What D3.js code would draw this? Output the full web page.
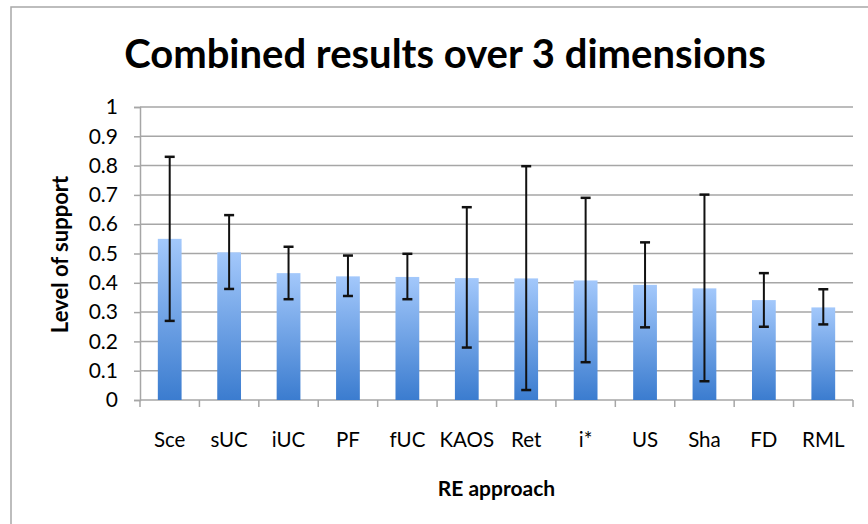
<!DOCTYPE html>
<html>
<head>
<meta charset="utf-8">
<script src="https://cdn.jsdelivr.net/npm/d3@7"></script>
<style>
  body { margin: 0; background: #fff; }
  text { font-family: Lato, "Open Sans", sans-serif; }
</style>
</head>
<body>
<div id="chart"></div>
<script>
// data
var approaches = ["Sce", "sUC", "iUC", "PF", "fUC", "KAOS", "Ret", "i*", "US", "Sha", "FD", "RML"];
var support = [0.55, 0.504, 0.433, 0.422, 0.42, 0.416, 0.415, 0.408, 0.393, 0.381, 0.341, 0.316];
var errHigh = [0.83, 0.631, 0.523, 0.493, 0.499, 0.658, 0.798, 0.69, 0.538, 0.701, 0.433, 0.378];
var errLow = [0.27, 0.379, 0.344, 0.355, 0.344, 0.179, 0.034, 0.129, 0.248, 0.064, 0.25, 0.258];
var yTicks = [0, 0.1, 0.2, 0.3, 0.4, 0.5, 0.6, 0.7, 0.8, 0.9, 1];

const width = 868, height = 524;
const margin = { top: 107, right: 15, bottom: 124, left: 140 };
const innerW = width - margin.left - margin.right;
const innerH = height - margin.top - margin.bottom;

const svg = d3.select("#chart").append("svg")
  .attr("width", width)
  .attr("height", height);

// gradient for the bars
var grad = svg.append("defs").append("linearGradient")
  .attr("id", "barGrad")
  .attr("x1", 0).attr("y1", 0).attr("x2", 0).attr("y2", 1);
grad.append("stop").attr("offset", "0%").attr("stop-color", "#a3c8fb");
grad.append("stop").attr("offset", "100%").attr("stop-color", "#3b7ccf");

// outer chart frame
svg.append("rect")
  .attr("x", 11).attr("y", 7)
  .attr("width", width + 20).attr("height", height + 20)
  .attr("fill", "none")
  .attr("stroke", "#a8a8a8")
  .attr("stroke-width", 1.5);

const g = svg.append("g")
  .attr("transform", `translate(${margin.left},${margin.top})`);

const x = d3.scaleBand()
  .domain(approaches)
  .range([0, innerW])
  .paddingInner(0.6)
  .paddingOuter(0.3);

const y = d3.scaleLinear()
  .domain([0, 1])
  .range([innerH, 0]);

// horizontal gridlines
g.selectAll(".grid")
  .data(yTicks.slice(1))
  .join("line")
  .attr("x1", 0)
  .attr("x2", innerW)
  .attr("y1", d => y(d))
  .attr("y2", d => y(d))
  .attr("stroke", "#a6a6a6")
  .attr("stroke-width", 1.5);

// y axis
g.append("g")
  .call(d3.axisLeft(y).tickValues(yTicks).tickFormat(d => d).tickSize(6).tickPadding(16))
  .call(a => a.selectAll("line, path").attr("stroke", "#a6a6a6").attr("stroke-width", 1.5))
  .call(a => a.selectAll("text").style("font-size", "21px").attr("fill", "#000"));

// x axis with ticks at category boundaries
var bounds = d3.range(approaches.length + 1).map(i => i * innerW / approaches.length);
g.append("line")
  .attr("x1", 0).attr("x2", innerW)
  .attr("y1", innerH).attr("y2", innerH)
  .attr("stroke", "#a6a6a6").attr("stroke-width", 1.5);
g.selectAll(".xtick")
  .data(bounds)
  .join("line")
  .attr("x1", d => d).attr("x2", d => d)
  .attr("y1", innerH).attr("y2", innerH + 7)
  .attr("stroke", "#a6a6a6").attr("stroke-width", 1.5);
g.selectAll(".xlabel")
  .data(approaches)
  .join("text")
  .attr("x", d => x(d) + x.bandwidth() / 2)
  .attr("y", innerH + 47)
  .attr("text-anchor", "middle")
  .style("font-size", "20.5px")
  .text(d => d);

// bars
g.selectAll(".bar")
  .data(approaches)
  .join("rect")
  .attr("x", d => x(d))
  .attr("y", (d, i) => y(support[i]))
  .attr("width", x.bandwidth())
  .attr("height", (d, i) => innerH - y(support[i]))
  .attr("fill", "url(#barGrad)");

// error bars
var eb = g.selectAll(".err")
  .data(approaches)
  .join("g")
  .attr("transform", d => `translate(${x(d) + x.bandwidth() / 2},0)`);
eb.append("line")
  .attr("y1", (d, i) => y(errHigh[i]))
  .attr("y2", (d, i) => y(errLow[i]))
  .attr("stroke", "#111").attr("stroke-width", 2);
eb.append("line")
  .attr("x1", -5).attr("x2", 5)
  .attr("y1", (d, i) => y(errHigh[i]))
  .attr("y2", (d, i) => y(errHigh[i]))
  .attr("stroke", "#111").attr("stroke-width", 2.5);
eb.append("line")
  .attr("x1", -5).attr("x2", 5)
  .attr("y1", (d, i) => y(errLow[i]))
  .attr("y2", (d, i) => y(errLow[i]))
  .attr("stroke", "#111").attr("stroke-width", 2.5);

// title
svg.append("text")
  .attr("x", 445)
  .attr("y", 68)
  .attr("text-anchor", "middle")
  .style("font-size", "40px")
  .style("font-weight", "bold")
  .text("Combined results over 3 dimensions");

// axis titles
svg.append("text")
  .attr("transform", `translate(68,${margin.top + innerH / 2 + 1}) rotate(-90)`)
  .attr("text-anchor", "middle")
  .style("font-size", "22px")
  .style("font-weight", "bold")
  .text("Level of support");

svg.append("text")
  .attr("x", margin.left + innerW / 2)
  .attr("y", 496)
  .attr("text-anchor", "middle")
  .style("font-size", "21px")
  .style("font-weight", "bold")
  .text("RE approach");
</script>
</body>
</html>
